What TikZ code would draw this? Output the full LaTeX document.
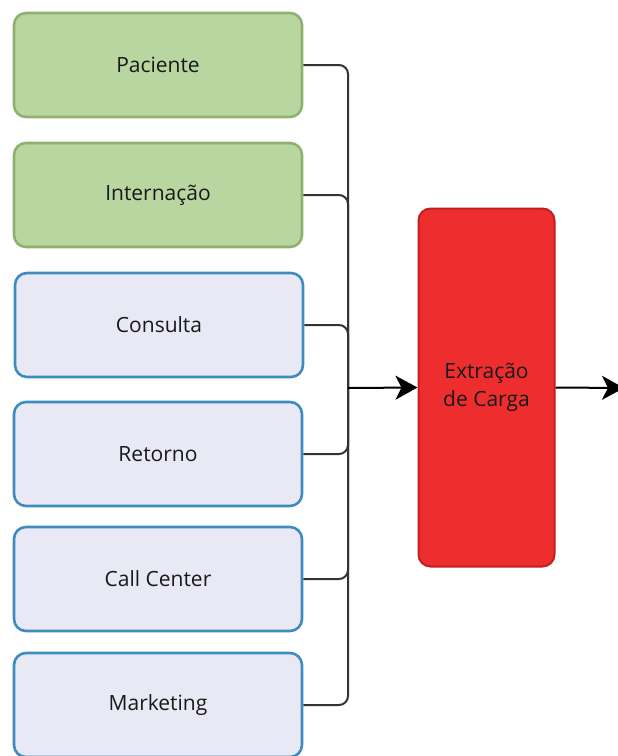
\documentclass[tikz,border=0pt]{standalone}
\usepackage{fontspec}
\setmainfont{Open Sans}
\usetikzlibrary{arrows.meta}
\definecolor{greenfill}{HTML}{B9D6A0}
\definecolor{greenedge}{HTML}{8FB06F}
\definecolor{bluefill}{HTML}{E8E9F4}
\definecolor{blueedge}{HTML}{3E8CBF}
\definecolor{redfill}{HTML}{EE2E2E}
\definecolor{rededge}{HTML}{C21F1F}
\definecolor{wire}{HTML}{333333}
\tikzset{
  srcbox/.style={rectangle, rounded corners=12pt, line width=2.6pt,
    minimum width=288pt, minimum height=104pt, inner sep=0pt,
    font=\fontsize{21}{26}\selectfont, text=black!90},
  greenbox/.style={srcbox, draw=greenedge, fill=greenfill},
  bluebox/.style={srcbox, draw=blueedge, fill=bluefill},
  procbox/.style={rectangle, rounded corners=12pt, line width=2pt,
    draw=rededge, fill=redfill, minimum width=136pt, minimum height=358pt,
    inner sep=0pt, align=center, font=\fontsize{21}{28}\selectfont, text=black!90},
  feed/.style={draw=wire, line width=2pt, rounded corners=9pt},
  flow/.style={draw=black, line width=2pt,
    -{Stealth[length=22pt, width=24pt, inset=6pt]}}
}
\begin{document}
\begin{tikzpicture}[x=1pt, y=-1pt]
  \useasboundingbox (0,0) rectangle (618,756);
  \clip (0,0) rectangle (618,756);

  % source tables
  \node[greenbox] (pac) at (158,65)  {Paciente};
  \node[greenbox] (int) at (158,195) {Internação};
  \node[bluebox]  (con) at (159,325) {Consulta};
  \node[bluebox]  (ret) at (158,454) {Retorno};
  \node[bluebox]  (cal) at (158,579) {Call Center};
  \node[bluebox]  (mkt) at (158,705) {Marketing};

  % extraction step
  \node[procbox] (ext) at (486.5,387.5) {Extração\\de Carga};

  % merge point and outgoing end
  \coordinate (j) at (348,388);
  \coordinate (out) at (624,388);

  % feeders into the merge point
  \draw[feed] (pac.east) -| (j);
  \draw[feed] (int.east) -| (j);
  \draw[feed] (con.east) -| (j);
  \draw[feed] (ret.east) -| (j);
  \draw[feed] (cal.east) -| (j);
  \draw[feed] (mkt.east) -| (j);

  % arrows
  \draw[flow] (j) -- (ext.west);
  \draw[flow] (ext.east) -- (out);
\end{tikzpicture}
\end{document}
